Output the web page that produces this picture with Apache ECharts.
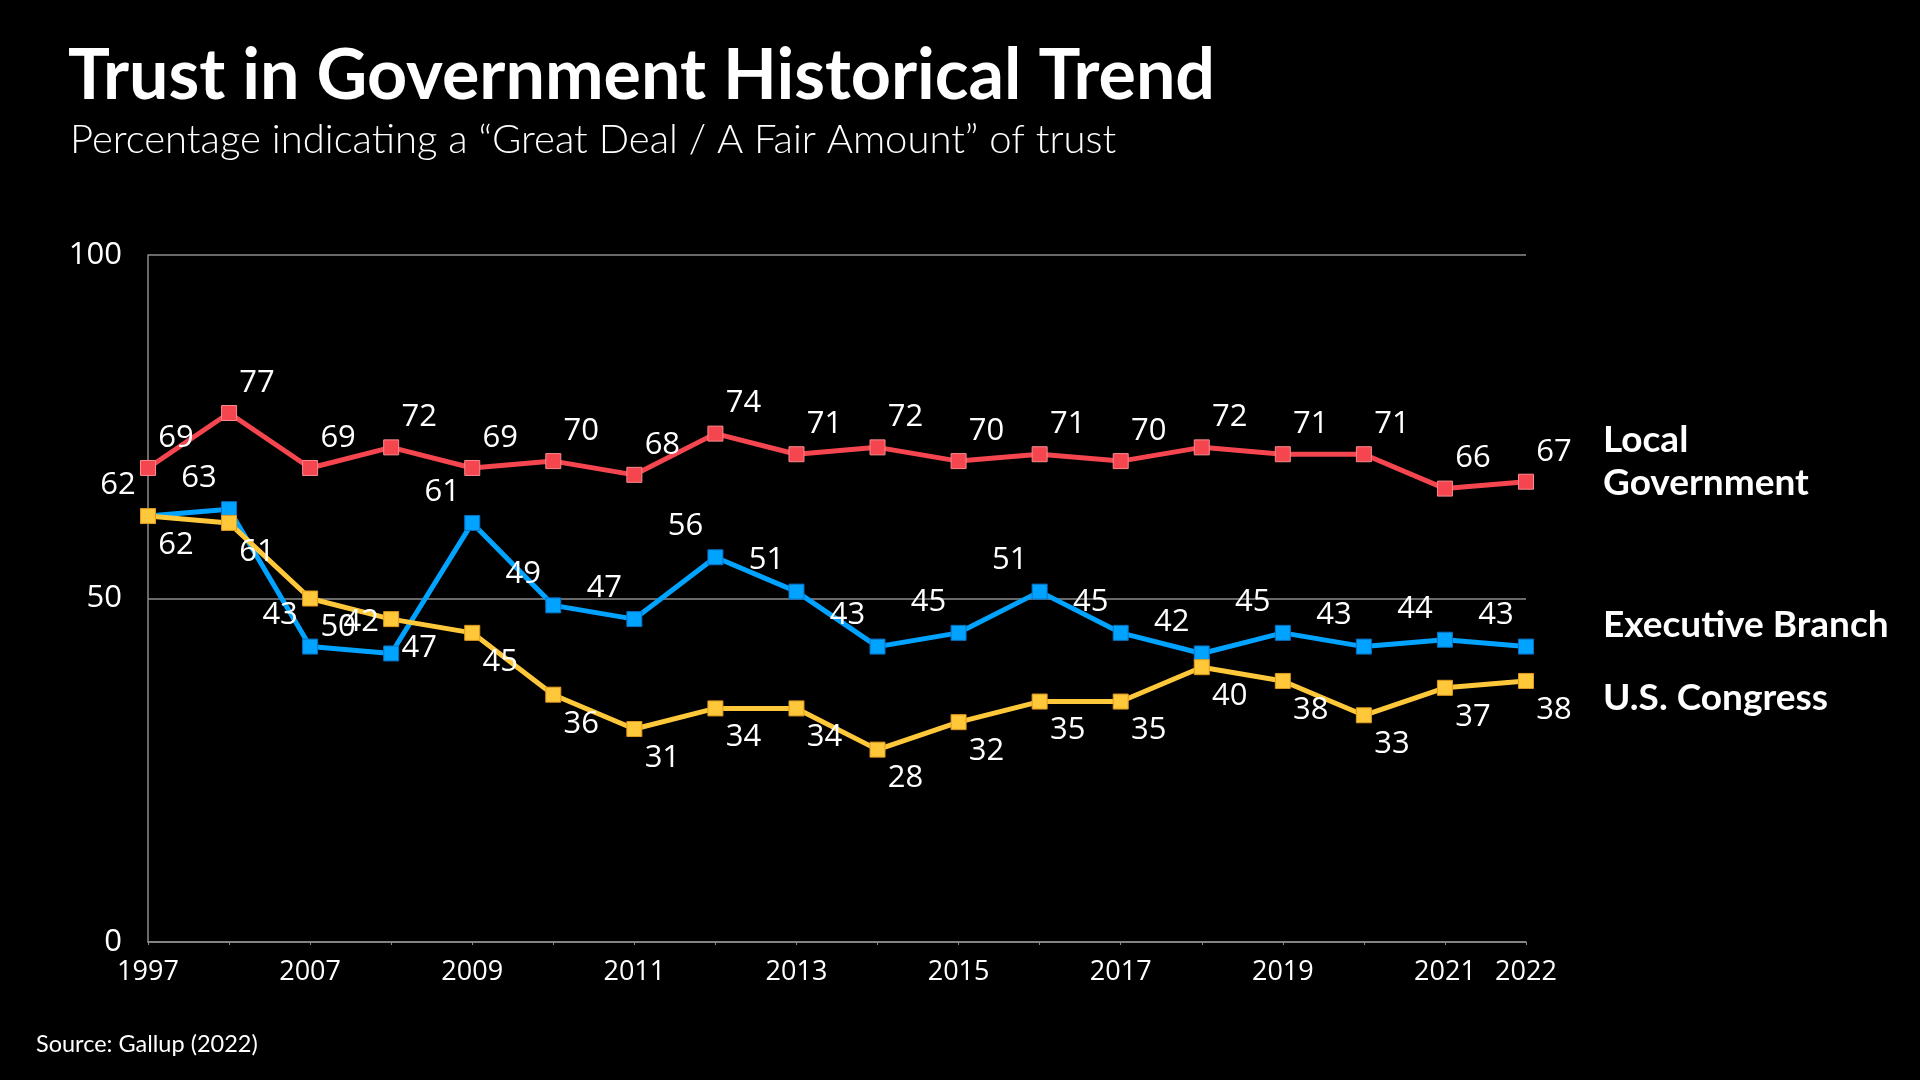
<!DOCTYPE html>
<html>
<head>
<meta charset="utf-8">
<script src="https://cdn.jsdelivr.net/npm/echarts@6/dist/echarts.min.js"></script>
<style>
  html, body { margin: 0; padding: 0; background: #000; }
  #chart { width: 1920px; height: 1080px; }
</style>
</head>
<body>
<div id="chart"></div>
<script>
// Categories (second point's year is not labelled in the source)
const categories = ['1997', '', '2007', '2008', '2009', '2010', '2011', '2012', '2013', '2014', '2015', '2016', '2017', '2018', '2019', '2020', '2021', '2022'];
const shownLabels = ['1997', '2007', '2009', '2011', '2013', '2015', '2017', '2019', '2021', '2022'];
const yTicks = [0, 50, 100];

const localGov = [69, 77, 69, 72, 69, 70, 68, 74, 71, 72, 70, 71, 70, 72, 71, 71, 66, 67];
const executive = [62, 63, 43, 42, 61, 49, 47, 56, 51, 43, 45, 51, 45, 42, 45, 43, 44, 43];
const congress = [62, 61, 50, 47, 45, 36, 31, 34, 34, 28, 32, 35, 35, 40, 38, 33, 37, 38];

const titleText = 'Trust in Government Historical Trend';
const subtitleText = 'Percentage indicating a \u201cGreat Deal / A Fair Amount\u201d of trust';
const sourceText = 'Source: Gallup (2022)';

const FONT = '"Open Sans", "Noto Sans", sans-serif';
const LATO = 'Lato, "Open Sans", sans-serif';

const chart = echarts.init(document.getElementById('chart'));

function lineSeries(name, data, color, border, offset) {
  return {
    name: name,
    type: 'line',
    data: data,
    symbol: 'rect',
    symbolSize: 15,
    lineStyle: { color: color, width: 5 },
    itemStyle: { color: color, borderColor: border, borderWidth: 1 },
    label: {
      show: true,
      position: 'inside',
      offset: offset,
      align: 'center',
      verticalAlign: 'middle',
      color: '#fff',
      fontSize: 31,
      fontFamily: FONT
    },
    emphasis: { disabled: true },
    animation: false
  };
}

chart.setOption({
  backgroundColor: '#000',
  animation: false,
  grid: { left: 148, right: 394, top: 255, bottom: 138, containLabel: false },
  xAxis: {
    type: 'category',
    data: categories,
    boundaryGap: false,
    axisLine: { lineStyle: { color: '#8c8c8c', width: 1.5 } },
    axisTick: { show: true, alignWithLabel: true, interval: 0, length: 3, lineStyle: { color: '#8c8c8c' } },
    axisLabel: {
      interval: function (idx, val) { return shownLabels.indexOf(val) >= 0; },
      color: '#fff',
      fontSize: 27,
      fontFamily: FONT,
      margin: 17
    },
    splitLine: { show: false }
  },
  yAxis: {
    type: 'value',
    min: yTicks[0],
    max: yTicks[yTicks.length - 1],
    interval: 50,
    axisLine: { show: true, lineStyle: { color: '#8c8c8c', width: 1.5 } },
    axisTick: { show: false },
    axisLabel: { color: '#fff', fontSize: 31, fontFamily: FONT, margin: 26 },
    splitLine: { lineStyle: { color: '#8c8c8c', width: 1.5 } }
  },
  series: [
    lineSeries('Local Government', localGov, '#F5464F', '#F98A8F', [28, -30]),
    lineSeries('Executive Branch', executive, '#00A3FF', '#0A6FC0', [-30, -31]),
    lineSeries('U.S. Congress', congress, '#FFC83A', '#E09A1E', [28, 29])
  ],
  graphic: [
    { type: 'text', x: 68, y: 76, style: { text: titleText, fill: '#fff', font: 'bold 70px ' + LATO, verticalAlign: 'middle' } },
    { type: 'text', x: 70, y: 140, style: { text: subtitleText, fill: '#fff', font: '300 40px ' + LATO, verticalAlign: 'middle' } },
    { type: 'text', x: 36, y: 1044, style: { text: sourceText, fill: '#fff', font: '23.5px ' + LATO, verticalAlign: 'middle' } },
    { type: 'text', x: 1603, y: 440, style: { text: 'Local', fill: '#fff', font: 'bold 37px ' + LATO, verticalAlign: 'middle' } },
    { type: 'text', x: 1603, y: 483, style: { text: 'Government', fill: '#fff', font: 'bold 37px ' + LATO, verticalAlign: 'middle' } },
    { type: 'text', x: 1603, y: 625, style: { text: 'Executive Branch', fill: '#fff', font: 'bold 37px ' + LATO, verticalAlign: 'middle' } },
    { type: 'text', x: 1603, y: 698, style: { text: 'U.S. Congress', fill: '#fff', font: 'bold 37px ' + LATO, verticalAlign: 'middle' } }
  ]
});
</script>
</body>
</html>
